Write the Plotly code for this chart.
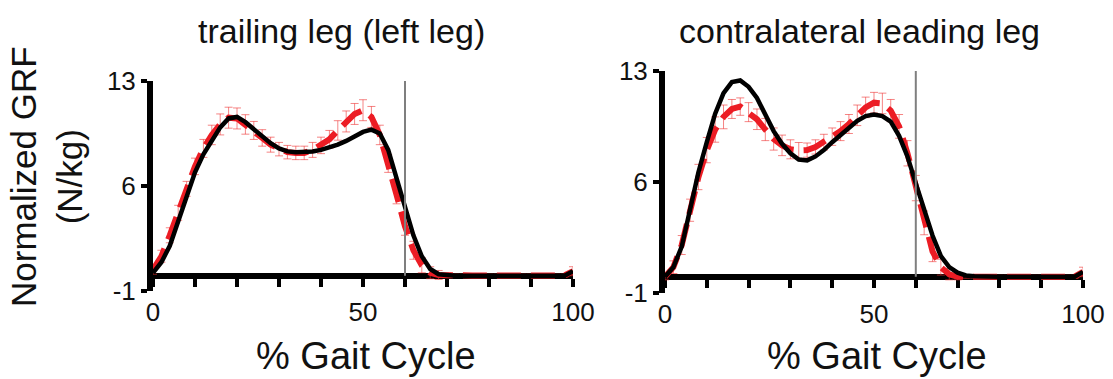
import plotly.graph_objects as go

# ---------------- data ----------------
pct = list(range(0, 101, 2))  # % gait cycle

left_black = [0.2, 0.9, 2.0, 3.6, 5.3, 6.9, 8.1, 9.0, 9.9, 10.5,
              10.6, 10.25, 9.8, 9.3, 8.85, 8.5, 8.3, 8.25, 8.25, 8.3,
              8.4, 8.55, 8.75, 9.0, 9.3, 9.6, 9.75, 9.5, 8.4, 6.5,
              4.5, 2.7, 1.3, 0.45, 0.1, 0.02, 0.0, 0.0, 0.0, 0.0,
              0.0, 0.0, 0.0, 0.0, 0.0, 0.0, 0.0, 0.0, 0.0, 0.0, 0.3]
left_red = [0.4, 1.3, 2.7, 4.2, 5.8, 7.3, 8.5, 9.4, 10.1, 10.55,
            10.5, 10.1, 9.7, 9.2, 8.75, 8.45, 8.25, 8.2, 8.2, 8.4,
            8.7, 9.1, 9.7, 10.3, 10.8, 11.05, 10.6, 9.4, 7.5, 5.4,
            3.3, 1.7, 0.7, 0.2, 0.05, 0.02, 0.02, 0.02, 0.02, 0.02,
            0.02, 0.02, 0.02, 0.02, 0.02, 0.02, 0.02, 0.02, 0.02, 0.02, 0.3]
left_err = [0.3, 0.4, 0.5, 0.5, 0.5, 0.55, 0.6, 0.65, 0.7, 0.7,
            0.7, 0.65, 0.6, 0.55, 0.5, 0.45, 0.45, 0.45, 0.45, 0.5,
            0.55, 0.6, 0.65, 0.7, 0.7, 0.7, 0.7, 0.65, 0.6, 0.6,
            0.6, 0.6, 0.5, 0.4, 0.3, 0.15, 0.1, 0.1, 0.1, 0.1,
            0.1, 0.1, 0.1, 0.1, 0.1, 0.1, 0.1, 0.1, 0.1, 0.1, 0.3]

right_black = [0.0, 0.6, 1.9, 4.2, 6.6, 8.5, 10.3, 11.6, 12.3, 12.4,
               12.0, 11.3, 10.2, 9.2, 8.4, 7.8, 7.4, 7.35, 7.6, 8.0,
               8.5, 8.95, 9.4, 9.85, 10.15, 10.25, 10.15, 9.8, 8.9, 7.6,
               5.9, 4.2, 2.6, 1.3, 0.6, 0.25, 0.08, 0.03, 0.0, 0.0,
               0.0, 0.0, 0.0, 0.0, 0.0, 0.0, 0.0, 0.0, 0.0, 0.0, 0.3]
right_red = [0.0, 0.6, 2.0, 4.2, 6.3, 8.0, 9.3, 10.1, 10.6, 10.75,
             10.4, 9.95, 9.3, 8.7, 8.3, 8.05, 7.98, 8.0, 8.2, 8.5,
             8.85, 9.2, 9.65, 10.2, 10.7, 11.0, 10.95, 10.5, 9.5, 7.8,
             5.6, 3.4, 1.6, 0.6, 0.15, 0.0, 0.0, 0.0, 0.0, 0.0,
             0.0, 0.0, 0.0, 0.0, 0.0, 0.0, 0.0, 0.0, 0.0, 0.0, 0.3]
right_err = [0.2, 0.4, 0.6, 0.7, 0.8, 0.8, 0.8, 0.75, 0.6, 0.55,
             0.6, 0.65, 0.7, 0.7, 0.65, 0.6, 0.5, 0.45, 0.45, 0.5,
             0.55, 0.6, 0.6, 0.65, 0.65, 0.65, 0.65, 0.7, 0.75, 0.8,
             0.8, 0.75, 0.65, 0.5, 0.35, 0.2, 0.1, 0.1, 0.1, 0.1,
             0.1, 0.1, 0.1, 0.1, 0.1, 0.1, 0.1, 0.1, 0.1, 0.1, 0.3]

toe_off = 60
y_ticks = [-1, 6, 13]
y_tick_text = ["-1", "6", "13"]
x_ticks = [0, 50, 100]
x_tick_text = ["0", "50", "100"]
panel_titles = ["trailing leg (left leg)", "contralateral leading leg"]
x_title = "% Gait Cycle"
y_title = "Normalized GRF<br>(N/kg)"

# ---------------- layout helpers ----------------
W, H = 1113, 379
FONT = "Liberation Sans, Arial, sans-serif"
RED = "#ec1c24"
ERR = "rgba(238,50,50,0.6)"


def fx(p):
    return p / W


def fy(p):
    return 1 - p / H


dom_x = [[fx(153), fx(573)], [fx(665), fx(1083)]]
dom_y = [[fy(290.7), fy(81)], [fy(292.5), fy(71)]]
YR = [-1, 13]

fig = go.Figure()

panels = [(left_red, left_err, left_black), (right_red, right_err, right_black)]
for i, (red, err, blk) in enumerate(panels):
    xa = "x" if i == 0 else "x2"
    ya = "y" if i == 0 else "y2"
    xz = "x3" if i == 0 else "x4"
    fig.add_trace(go.Scatter(
        x=[toe_off, toe_off], y=[0, YR[1]], mode="lines",
        line=dict(color="#7f7f7f", width=2), xaxis=xz, yaxis=ya,
        showlegend=False, hoverinfo="skip"))
    fig.add_trace(go.Scatter(
        x=pct, y=red, mode="lines",
        line=dict(color=RED, width=6, dash="24px,10px"),
        error_y=dict(type="data", array=err, visible=True, color=ERR,
                     thickness=1, width=4),
        xaxis=xa, yaxis=ya, showlegend=False))
    fig.add_trace(go.Scatter(
        x=pct, y=blk, mode="lines",
        line=dict(color="black", width=4.5),
        xaxis=xa, yaxis=ya, showlegend=False))

axis_font = dict(family=FONT, size=26, color="#111")
layout = dict(
    width=W, height=H,
    margin=dict(l=0, r=0, t=0, b=0, pad=0),
    paper_bgcolor="white", plot_bgcolor="white",
    showlegend=False,
)
for i in range(2):
    sx = "" if i == 0 else "2"
    d0, d1 = dom_y[i]
    zero_pos = d0 + (0 - YR[0]) / (YR[1] - YR[0]) * (d1 - d0)
    layout["xaxis" + sx] = dict(
        domain=dom_x[i], range=[0, 100], anchor="y" + sx,
        showline=False, ticks="", tickvals=x_ticks, ticktext=x_tick_text,
        tickfont=axis_font, showgrid=False, zeroline=False,
        ticklabelstandoff=3, automargin=False)
    layout["yaxis" + sx] = dict(
        domain=dom_y[i], range=YR, anchor="x" + sx,
        showline=True, linewidth=6, linecolor="black",
        ticks="outside", ticklen=6, tickwidth=4, tickcolor="black",
        tickvals=y_ticks, ticktext=y_tick_text, tickfont=axis_font,
        showgrid=False, zeroline=False, layer="below traces",
        automargin=False)
    layout["xaxis" + str(3 + i)] = dict(
        overlaying="x" + sx, anchor="free", position=zero_pos,
        range=[0, 100], side="bottom",
        showline=True, linewidth=6, linecolor="black",
        ticks="outside", ticklen=8, tickwidth=4, tickcolor="black",
        tick0=0, dtick=10, showticklabels=False,
        showgrid=False, zeroline=False, layer="below traces",
        automargin=False)

fig.update_layout(**layout)

title_font = dict(family=FONT, size=34, color="#111")
xt_font = dict(family=FONT, size=38, color="#111")
ann = [
    dict(text=panel_titles[0], x=fx(341), y=fy(31)),
    dict(text=panel_titles[1], x=fx(859), y=fy(31)),
    dict(text=x_title, x=fx(366), y=fy(356), font=xt_font),
    dict(text=x_title, x=fx(877), y=fy(356), font=xt_font),
    dict(text=y_title, x=fx(46), y=fy(177), textangle=-90,
         font=dict(family=FONT, size=35, color="#111")),
]
for a in ann:
    a.setdefault("font", title_font)
    fig.add_annotation(xref="paper", yref="paper", showarrow=False,
                       xanchor="center", yanchor="middle", **a)

fig.write_html("out.html")
